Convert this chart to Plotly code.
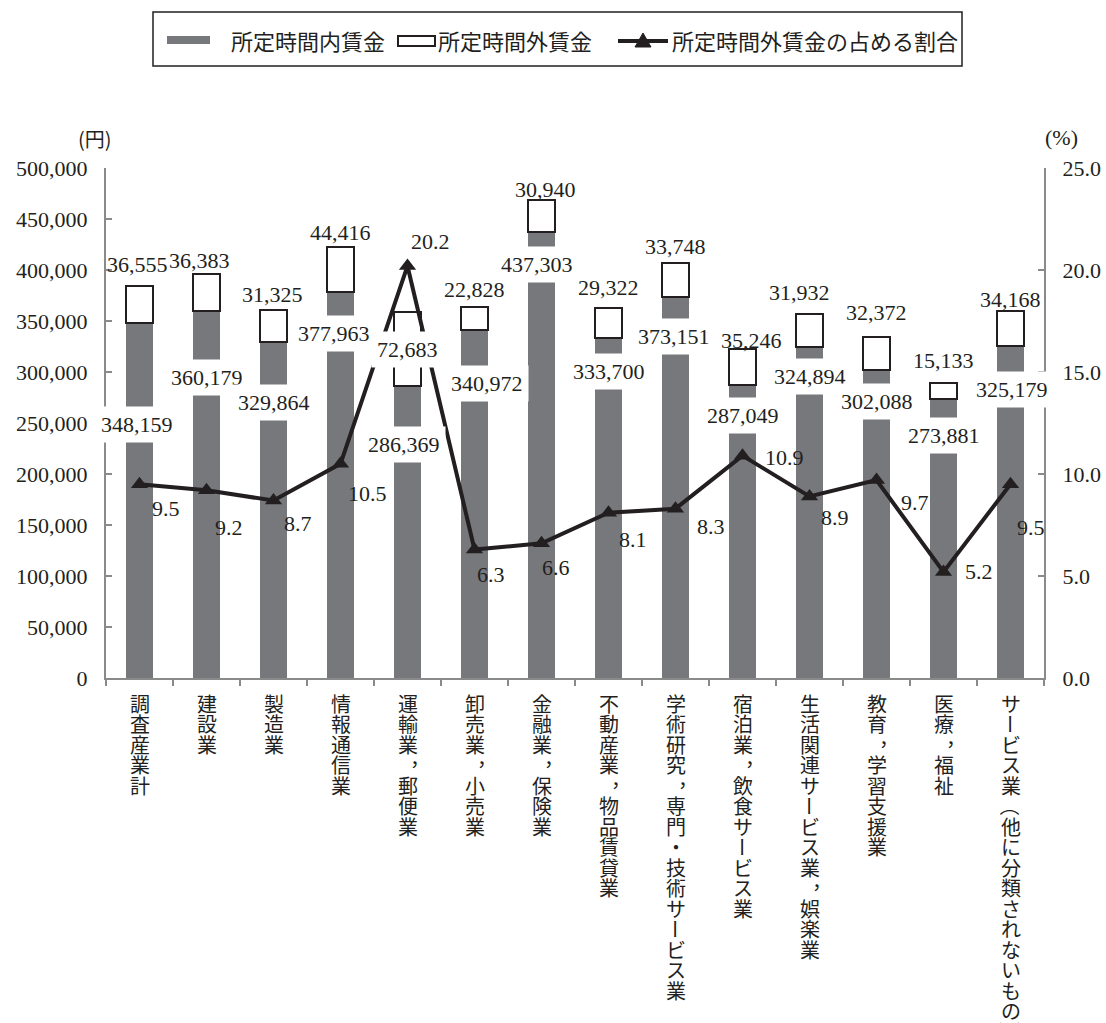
import plotly.graph_objects as go

# ---------------- data ----------------
categories = ["調査産業計", "建設業", "製造業", "情報通信業", "運輸業，郵便業",
              "卸売業，小売業", "金融業，保険業", "不動産業，物品賃貸業",
              "学術研究，専門・技術サービス業", "宿泊業，飲食サービス業",
              "生活関連サービス業，娯楽業", "教育，学習支援業", "医療，福祉",
              "サービス業（他に分類されないもの）"]
scheduled = [348159, 360179, 329864, 377963, 286369, 340972, 437303,
             333700, 373151, 287049, 324894, 302088, 273881, 325179]
overtime = [36555, 36383, 31325, 44416, 72683, 22828, 30940,
            29322, 33748, 35246, 31932, 32372, 15133, 34168]
share = [9.5, 9.2, 8.7, 10.5, 20.2, 6.3, 6.6, 8.1, 8.3, 10.9, 8.9, 9.7, 5.2, 9.5]
series_names = ["所定時間内賃金", "所定時間外賃金", "所定時間外賃金の占める割合"]
y_ticks = list(range(0, 500001, 50000))
y2_ticks = [0, 5, 10, 15, 20, 25]
y_title = "(円)"
y2_title = "(%)"

# ---------------- label placement (pixel offsets, style only) ----------------
inner_dx = [-3, 0, 0, -7, -4, 12, -5, 0, -2, 0, 0, 0, 0, 1]
inner_dy = [-102, -67, -61, -41, -59, -53, -33, -34, -39, -30, -30, -32, -37, -43]
over_dx = [-2, -7, -1, 0, 0, 0, 4, 0, 0, 9, -10, 0, 0, 0]
over_dy = [21, 13, 15, 15, -38, 17, 11, 20, 16, 9, 22, 24, 23, 12]
share_dx = [26, 22, 24, 27, 23, 16, 14, 24, 35, 42, 25, 38, 35, 20]
share_dy = [-24, -37, -23, -30, 24, -25, -24, -27, -18, -2, -21, -22, 0, -43]

# ---------------- style ----------------
W, H = 1106, 1023
L, R, T, B = 106, 62, 168, 345
PW, PH = W - L - R, H - T - B
GRAY = "#77787b"
INK = "#231f20"
AXIS = "#8a8a8a"
NUM_FONT = "Liberation Serif, Times New Roman, serif"
JP_FONT = "Noto Sans CJK JP, sans-serif"
CHAR_STEP = 20.5     # vertical step between stacked characters (px)
ROTATE_CHARS = "ー（）"


def px(xp):
    return (xp - L) / PW


def py(yp):
    return (T + PH - yp) / PH


fig = go.Figure()
fig.add_trace(go.Bar(x=categories, y=scheduled, name=series_names[0],
                     marker=dict(color=GRAY, line=dict(width=0)), showlegend=False))
fig.add_trace(go.Bar(x=categories, y=overtime, name=series_names[1],
                     marker=dict(color="white", line=dict(color=INK, width=2)),
                     showlegend=False))
fig.add_trace(go.Scatter(x=categories, y=share, name=series_names[2], yaxis="y2",
                         mode="lines+markers",
                         line=dict(color=INK, width=4),
                         marker=dict(symbol="triangle-up", size=15, color=INK),
                         showlegend=False))

ann = []
numfont = dict(family=NUM_FONT, size=22, color=INK)
for i, c in enumerate(categories):
    ann.append(dict(x=c, y=scheduled[i], xref="x", yref="y",
                    text=f"{scheduled[i]:,}", showarrow=False,
                    xanchor="center", yanchor="middle",
                    xshift=inner_dx[i], yshift=inner_dy[i],
                    font=numfont, bgcolor="white", borderpad=5))
    top = scheduled[i] + overtime[i]
    ann.append(dict(x=c, y=top, xref="x", yref="y",
                    text=f"{overtime[i]:,}", showarrow=False,
                    xanchor="center", yanchor="middle",
                    xshift=over_dx[i], yshift=over_dy[i], font=numfont,
                    bgcolor="white" if over_dy[i] < 0 else "rgba(0,0,0,0)",
                    borderpad=5 if over_dy[i] < 0 else 0))
    ann.append(dict(x=c, y=share[i], xref="x", yref="y2",
                    text=f"{share[i]:.1f}", showarrow=False,
                    xanchor="center", yanchor="middle",
                    xshift=share_dx[i], yshift=share_dy[i], font=numfont))
    # vertical (tategaki) category label: one character per step
    for j, ch in enumerate(c):
        a = dict(x=c, y=0, xref="x", yref="paper", text=ch, showarrow=False,
                 xanchor="center", yanchor="middle",
                 yshift=-25 - CHAR_STEP * j,
                 font=dict(family=JP_FONT, size=20, color=INK))
        if ch in ROTATE_CHARS:
            a["textangle"] = 90
        if ch == "，":
            a["xshift"] = 12
            a["yshift"] = a["yshift"] + 7
        ann.append(a)

# axis titles
ann.append(dict(x=px(95), y=py(138), xref="paper", yref="paper", text=y_title,
                xanchor="center", yanchor="middle",
                showarrow=False, font=dict(family=JP_FONT, size=20, color=INK)))
ann.append(dict(x=px(1061), y=py(137), xref="paper", yref="paper", text=y2_title,
                xanchor="center", yanchor="middle",
                showarrow=False, font=dict(family=NUM_FONT, size=22, color=INK)))

# custom legend
legfont = dict(family=JP_FONT, size=22, color=INK)
for xl, name in zip([229, 436, 670], series_names):
    ann.append(dict(x=px(xl), y=py(40), xref="paper", yref="paper", text=name,
                    xanchor="left", yanchor="middle", showarrow=False, font=legfont))

shapes = [
    dict(type="rect", xref="paper", yref="paper", x0=px(153), x1=px(962), y0=py(66), y1=py(12),
         line=dict(color=INK, width=1.5), fillcolor="rgba(0,0,0,0)"),
    dict(type="rect", xref="paper", yref="paper", x0=px(167), x1=px(210), y0=py(44), y1=py(36),
         line=dict(width=0), fillcolor=GRAY),
    dict(type="rect", xref="paper", yref="paper", x0=px(398), x1=px(435), y0=py(46), y1=py(36),
         line=dict(color=INK, width=2), fillcolor="white"),
    dict(type="line", xref="paper", yref="paper", x0=px(618), x1=px(668), y0=py(41), y1=py(41),
         line=dict(color=INK, width=4)),
    dict(type="path", xref="paper", yref="paper",
         path=f"M {px(635)} {py(47)} L {px(651)} {py(47)} L {px(643)} {py(33)} Z",
         line=dict(color=INK, width=1), fillcolor=INK),
]

fig.update_layout(
    width=W, height=H,
    margin=dict(l=L, r=R, t=T, b=B, autoexpand=False),
    barmode="stack", bargap=0.6,
    plot_bgcolor="white", paper_bgcolor="white",
    annotations=ann, shapes=shapes,
    xaxis=dict(type="category", range=[-0.5, len(categories) - 0.5],
               showticklabels=False,
               showline=True, linecolor=AXIS, linewidth=2,
               ticks="outside", tickson="boundaries", ticklen=6, tickcolor=AXIS,
               tickwidth=1.5, showgrid=False, zeroline=False),
    yaxis=dict(range=[0, 500000], tickvals=y_ticks, tickformat=",d",
               showline=True, linecolor=AXIS, linewidth=2, ticks="inside", ticklen=6,
               tickcolor=AXIS, tickwidth=1.5, showgrid=False, zeroline=False,
               tickfont=dict(family=NUM_FONT, size=22, color=INK), ticklabelstandoff=12),
    yaxis2=dict(range=[0, 25], tickvals=y2_ticks, tickformat=".1f", overlaying="y",
                side="right", showline=True, linecolor=AXIS, linewidth=2, ticks="inside",
                ticklen=6, tickcolor=AXIS, tickwidth=1.5, showgrid=False, zeroline=False,
                tickfont=dict(family=NUM_FONT, size=22, color=INK), ticklabelstandoff=12),
    separators=".,",
)

fig.write_html("out.html", config={"displayModeBar": False},
               post_script="document.body.style.margin='0px';")
